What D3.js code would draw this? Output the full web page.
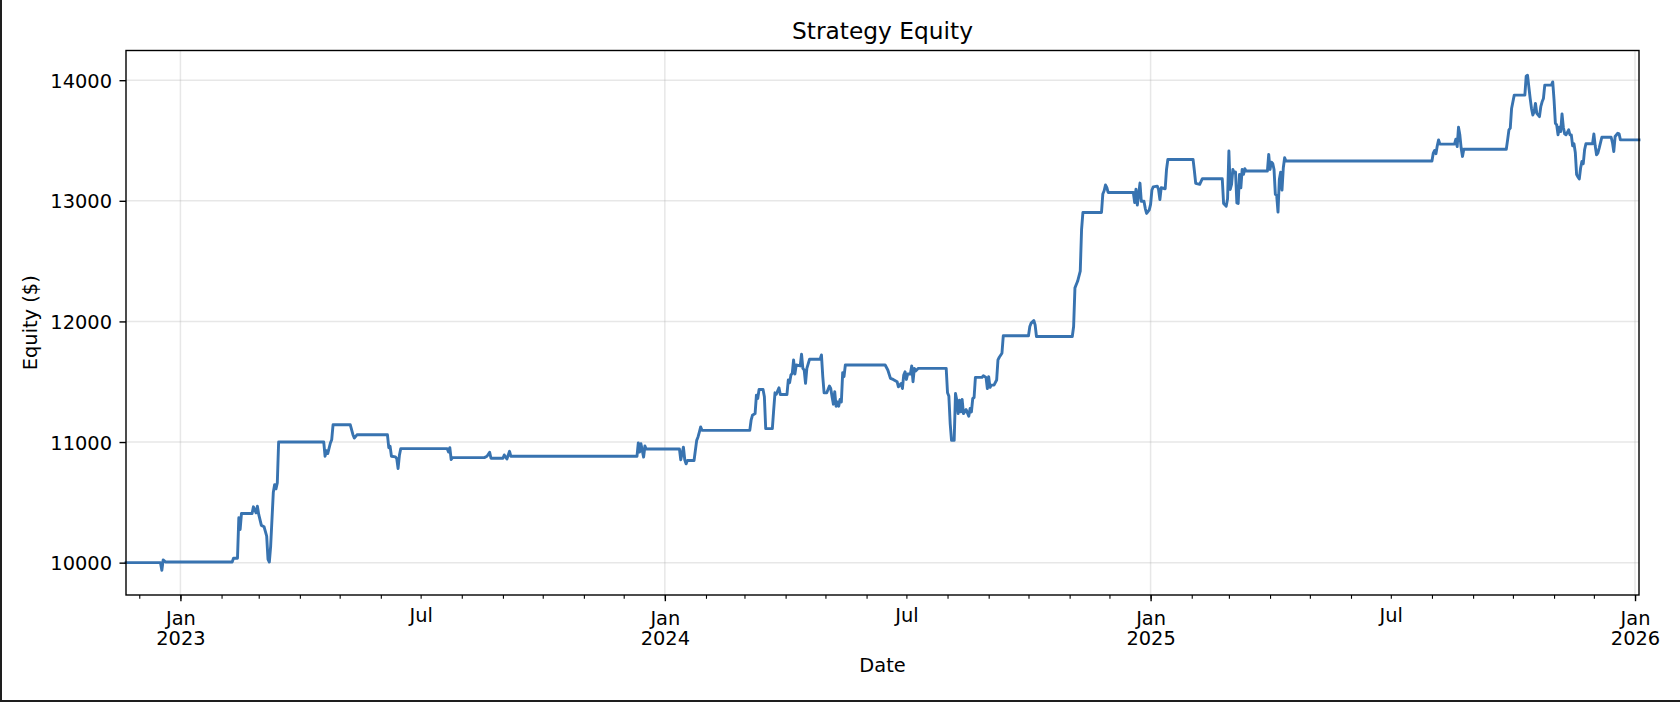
<!DOCTYPE html>
<html>
<head>
<meta charset="utf-8">
<script src="https://cdn.jsdelivr.net/npm/d3@7"></script>
<style>
html,body{margin:0;padding:0;background:#fff;overflow:hidden}
svg{display:block}
text{font-family:"DejaVu Sans",sans-serif;fill:#000}
</style>
</head>
<body>
<svg id="chart" width="1680" height="702"></svg>
<script>
// ---- Data (date, equity) ----
const equity2022 = [
  ["2022-11-21",10000],["2022-12-17",10000],["2022-12-18",9937],["2022-12-19",10022],["2022-12-21",10005]
];
const equity2023 = [
  ["2023-02-09",10005],["2023-02-10",10036],["2023-02-13",10036],["2023-02-14",10372],["2023-02-15",10275],
  ["2023-02-16",10408],["2023-02-24",10408],["2023-02-25",10463],["2023-02-27",10413],["2023-02-28",10468],
  ["2023-03-01",10400],["2023-03-03",10309],["2023-03-05",10298],["2023-03-07",10220],["2023-03-08",10028],
  ["2023-03-09",10005],["2023-03-10",10138],["2023-03-12",10584],["2023-03-13",10647],["2023-03-14",10612],
  ["2023-03-15",10661],["2023-03-16",11000],["2023-04-19",11000],["2023-04-20",10882],["2023-04-21",10928],
  ["2023-04-22",10904],["2023-04-24",10992],["2023-04-25",11019],["2023-04-26",11143],["2023-05-09",11143],
  ["2023-05-11",11061],["2023-05-12",11033],["2023-05-14",11060],["2023-06-06",11060],["2023-06-07",10953],
  ["2023-06-08",10964],["2023-06-09",10882],["2023-06-12",10877],["2023-06-13",10863],["2023-06-14",10781],
  ["2023-06-15",10890],["2023-06-16",10945],["2023-07-21",10945],["2023-07-22",10918],["2023-07-23",10953],
  ["2023-07-24",10855],["2023-07-25",10871],["2023-08-18",10871],["2023-08-20",10882],["2023-08-22",10915],
  ["2023-08-23",10866],["2023-09-01",10866],["2023-09-02",10893],["2023-09-04",10860],["2023-09-06",10923],
  ["2023-09-07",10882],["2023-12-11",10882],["2023-12-12",10992],["2023-12-13",10917],["2023-12-14",10986],
  ["2023-12-16",10875],["2023-12-17",10967],["2023-12-18",10942]
];
const equity2024 = [
  ["2024-01-12",10942],["2024-01-13",10853],["2024-01-15",10958],["2024-01-16",10853],["2024-01-17",10819],
  ["2024-01-18",10847],["2024-01-23",10847],["2024-01-25",11014],["2024-01-26",11042],["2024-01-27",11083],
  ["2024-01-28",11125],["2024-01-29",11097],["2024-03-05",11097],["2024-03-06",11181],["2024-03-07",11222],
  ["2024-03-09",11236],["2024-03-10",11389],["2024-03-11",11361],["2024-03-12",11436],["2024-03-15",11436],
  ["2024-03-16",11375],["2024-03-17",11111],["2024-03-22",11111],["2024-03-23",11264],["2024-03-24",11408],
  ["2024-03-25",11397],["2024-03-27",11450],["2024-03-28",11394],["2024-04-02",11394],["2024-04-03",11514],
  ["2024-04-04",11492],["2024-04-05",11556],["2024-04-06",11569],["2024-04-07",11681],["2024-04-08",11564],
  ["2024-04-09",11639],["2024-04-12",11631],["2024-04-13",11728],["2024-04-14",11611],["2024-04-15",11597],
  ["2024-04-16",11486],["2024-04-17",11611],["2024-04-19",11686],["2024-04-27",11686],["2024-04-28",11722],
  ["2024-04-29",11542],["2024-04-30",11408],["2024-05-02",11408],["2024-05-04",11464],["2024-05-05",11444],
  ["2024-05-06",11375],["2024-05-07",11314],["2024-05-08",11417],["2024-05-09",11297],["2024-05-10",11333],
  ["2024-05-11",11297],["2024-05-12",11353],["2024-05-13",11333],["2024-05-14",11575],["2024-05-15",11542],
  ["2024-05-16",11639],["2024-06-15",11639],["2024-06-17",11597],["2024-06-19",11528],["2024-06-21",11519],
  ["2024-06-24",11500],["2024-06-25",11458],["2024-06-27",11486],["2024-06-28",11444],["2024-06-29",11556],
  ["2024-06-30",11583],["2024-07-01",11519],["2024-07-02",11564],["2024-07-04",11564],["2024-07-05",11631],
  ["2024-07-06",11500],["2024-07-07",11611],["2024-07-08",11589],["2024-07-10",11611],["2024-07-31",11611],
  ["2024-08-01",11408],["2024-08-02",11381],["2024-08-03",11153],["2024-08-04",11014],["2024-08-06",11014],
  ["2024-08-07",11403],["2024-08-08",11347],["2024-08-09",11236],["2024-08-10",11347],["2024-08-11",11250],
  ["2024-08-12",11353],["2024-08-13",11236],["2024-08-15",11269],["2024-08-16",11242],["2024-08-17",11214],
  ["2024-08-18",11278],["2024-08-19",11250],["2024-08-20",11361],["2024-08-21",11369],["2024-08-22",11536],
  ["2024-08-27",11536],["2024-08-28",11550],["2024-08-30",11536],["2024-08-31",11444],["2024-09-01",11542],
  ["2024-09-02",11453],["2024-09-03",11472],["2024-09-05",11472],["2024-09-07",11514],["2024-09-08",11681],
  ["2024-09-09",11703],["2024-09-11",11736],["2024-09-12",11881],["2024-10-01",11881],["2024-10-02",11958],
  ["2024-10-03",11986],["2024-10-05",12008],["2024-10-06",11972],["2024-10-07",11875],["2024-11-03",11875],
  ["2024-11-04",11958],["2024-11-05",12278],["2024-11-06",12306],["2024-11-07",12333],["2024-11-09",12417],
  ["2024-11-10",12764],["2024-11-11",12903],["2024-11-25",12903],["2024-11-26",13056],["2024-11-27",13083],
  ["2024-11-28",13131],["2024-11-29",13111],["2024-11-30",13069],["2024-12-19",13069],["2024-12-20",12986],
  ["2024-12-21",13097],["2024-12-22",12964],["2024-12-23",13056],["2024-12-24",13147],["2024-12-25",12995],
  ["2024-12-27",12997],["2024-12-28",12936],["2024-12-29",12895],["2024-12-31",12925]
];
const equity2025 = [
  ["2025-01-01",12970],["2025-01-02",13090],["2025-01-03",13116],["2025-01-06",13122],["2025-01-07",13094],
  ["2025-01-08",13011],["2025-01-09",13108],["2025-01-12",13100],["2025-01-13",13260],["2025-01-14",13343],
  ["2025-02-02",13343],["2025-02-03",13247],["2025-02-04",13144],["2025-02-07",13136],["2025-02-09",13183],
  ["2025-02-24",13183],["2025-02-25",12978],["2025-02-27",12956],["2025-02-28",13017],["2025-03-01",13413],
  ["2025-03-02",13094],["2025-03-03",13136],["2025-03-04",13260],["2025-03-05",13233],["2025-03-06",13238],
  ["2025-03-07",12983],["2025-03-08",12978],["2025-03-09",13219],["2025-03-10",13108],["2025-03-11",13260],
  ["2025-03-12",13219],["2025-03-13",13266],["2025-03-14",13247],["2025-03-30",13247],["2025-03-31",13385],
  ["2025-04-01",13260],["2025-04-02",13321],["2025-04-03",13310],["2025-04-04",13260],["2025-04-05",13053],
  ["2025-04-06",13044],["2025-04-07",12906],["2025-04-08",13177],["2025-04-09",13238],["2025-04-10",13089],
  ["2025-04-11",13274],["2025-04-12",13357],["2025-04-13",13330],["2025-08-01",13330],["2025-08-02",13396],
  ["2025-08-03",13418],["2025-08-04",13390],["2025-08-05",13456],["2025-08-06",13505],["2025-08-07",13470],
  ["2025-08-18",13470],["2025-08-19",13511],["2025-08-20",13450],["2025-08-21",13610],["2025-08-22",13547],
  ["2025-08-23",13437],["2025-08-24",13368],["2025-08-25",13428],["2025-09-26",13428],["2025-09-27",13505],
  ["2025-09-28",13588],["2025-09-29",13602],["2025-09-30",13766],["2025-10-01",13821],["2025-10-02",13876],
  ["2025-10-10",13876],["2025-10-11",14033],["2025-10-12",14041],["2025-10-13",13945],["2025-10-14",13849],
  ["2025-10-15",13766],["2025-10-16",13711],["2025-10-17",13739],["2025-10-18",13808],["2025-10-19",13725],
  ["2025-10-21",13698],["2025-10-22",13780],["2025-10-23",13821],["2025-10-24",13849],["2025-10-25",13959],
  ["2025-10-30",13959],["2025-10-31",13986],["2025-11-01",13835],["2025-11-02",13643],["2025-11-03",13629],
  ["2025-11-04",13547],["2025-11-05",13610],["2025-11-06",13574],["2025-11-07",13720],["2025-11-08",13610],
  ["2025-11-09",13555],["2025-11-10",13547],["2025-11-12",13588],["2025-11-13",13547],["2025-11-14",13547],
  ["2025-11-15",13456],["2025-11-16",13473],["2025-11-17",13401],["2025-11-18",13217],["2025-11-19",13198],
  ["2025-11-20",13181],["2025-11-21",13272],["2025-11-22",13327],["2025-11-23",13308],["2025-11-24",13423],
  ["2025-11-25",13473],["2025-11-30",13473],["2025-12-01",13555],["2025-12-02",13456],["2025-12-03",13382],
  ["2025-12-04",13396],["2025-12-05",13437],["2025-12-07",13527],["2025-12-14",13527],["2025-12-15",13483],
  ["2025-12-16",13409],["2025-12-17",13533],["2025-12-19",13560],["2025-12-20",13555],["2025-12-21",13505]
];
const equity2026 = [
  ["2026-01-04",13505]
];

const yTicks = [10000, 11000, 12000, 13000, 14000];
const xLabelMonths = ["Jan", "Jul"];
const titleText = "Strategy Equity";
const xTitleText = "Date";
const yTitleText = "Equity ($)";

// ---- Layout ----
const W = 1680, H = 702;
const plot = {left: 126, right: 1639, top: 50.5, bottom: 595};
const lineColor = "#3873b0";

const parse = d3.utcParse("%Y-%m-%d");
const series = [].concat(equity2022, equity2023, equity2024, equity2025, equity2026)
  .map(([d, v]) => ({date: parse(d), value: v}));

const svg = d3.select("#chart");

// figure border (left and bottom edges of the screenshot)
svg.append("rect").attr("x", 0).attr("y", 0).attr("width", W).attr("height", H).attr("fill", "#fff");

const x = d3.scaleUtc()
  .domain(d3.extent(series, d => d.date))
  .range([plot.left, plot.right]);

const [vmin, vmax] = d3.extent(series, d => d.value);
const marg = (vmax - vmin) * 0.05;
const y = d3.scaleLinear()
  .domain([vmin - marg, vmax + marg])
  .range([plot.bottom, plot.top]);

const [d0, d1] = x.domain();
const monthTicks = d3.utcMonth.range(d3.utcMonth.ceil(d0), d3.utcDay.offset(d1, 1));
const yearTicks = d3.utcYear.range(d3.utcYear.ceil(d0), d3.utcDay.offset(d1, 1));
const fmtMon = d3.utcFormat("%b"), fmtYear = d3.utcFormat("%Y");

// ---- Grid ----
const grid = svg.append("g").attr("stroke", "#b0b0b0").attr("stroke-opacity", 0.3).attr("stroke-width", 1.5);
grid.selectAll("line.h").data(yTicks).join("line")
  .attr("x1", plot.left).attr("x2", plot.right)
  .attr("y1", d => y(d)).attr("y2", d => y(d));
grid.selectAll("line.v").data(yearTicks).join("line")
  .attr("y1", plot.top).attr("y2", plot.bottom)
  .attr("x1", d => x(d)).attr("x2", d => x(d));

// ---- Line ----
const line = d3.line().x(d => x(d.date)).y(d => y(d.value));
svg.append("path").datum(series)
  .attr("fill", "none")
  .attr("stroke", lineColor)
  .attr("stroke-width", 2.9)
  .attr("stroke-linejoin", "round")
  .attr("stroke-linecap", "square")
  .attr("d", line);

// ---- Spines ----
svg.append("rect")
  .attr("x", plot.left).attr("y", plot.top)
  .attr("width", plot.right - plot.left).attr("height", plot.bottom - plot.top)
  .attr("fill", "none").attr("stroke", "#000").attr("stroke-width", 1.4);

// ---- X minor axis (months) ----
const xMinor = svg.append("g").attr("transform", `translate(0,${plot.bottom})`)
  .call(d3.axisBottom(x).tickValues(monthTicks).tickSize(3.8)
    .tickFormat(d => (d.getUTCMonth() !== 0 && xLabelMonths.includes(fmtMon(d))) ? fmtMon(d) : ""));
xMinor.select(".domain").remove();
xMinor.selectAll(".tick line").attr("stroke", "#000").attr("stroke-width", 1.1);
xMinor.selectAll("text").attr("y", 27.1).attr("dy", null)
  .style("font-size", "19.4px").style("font-family", "'DejaVu Sans'");

// ---- X major axis (years) ----
const xMajor = svg.append("g").attr("transform", `translate(0,${plot.bottom})`)
  .call(d3.axisBottom(x).tickValues(yearTicks).tickSize(6.2).tickFormat(""));
xMajor.select(".domain").remove();
xMajor.selectAll(".tick line").attr("stroke", "#000").attr("stroke-width", 1.4);
xMajor.selectAll(".tick text").each(function(d) {
  const t = d3.select(this).attr("y", null).attr("dy", null)
    .style("font-size", "19.4px").style("font-family", "'DejaVu Sans'");
  t.text(null);
  t.append("tspan").attr("x", 0).attr("y", 29.7).text(fmtMon(d));
  t.append("tspan").attr("x", 0).attr("y", 50).text(fmtYear(d));
});

// ---- Y axis ----
const yAxis = svg.append("g").attr("transform", `translate(${plot.left},0)`)
  .call(d3.axisLeft(y).tickValues(yTicks).tickSize(6.5).tickFormat(d3.format("d")));
yAxis.select(".domain").remove();
yAxis.selectAll(".tick line").attr("stroke", "#000").attr("stroke-width", 1.4);
yAxis.selectAll("text").attr("x", -14).attr("dy", "0.365em")
  .style("font-size", "19.4px").style("font-family", "'DejaVu Sans'");

// ---- Titles ----
const cx = (plot.left + plot.right) / 2;
svg.append("text").attr("x", cx).attr("y", 39.3)
  .attr("text-anchor", "middle").style("font-size", "23.3px").text(titleText);
svg.append("text").attr("x", cx).attr("y", 671.7)
  .attr("text-anchor", "middle").style("font-size", "19.4px").text(xTitleText);
svg.append("text")
  .attr("transform", `translate(37,${(plot.top + plot.bottom) / 2}) rotate(-90)`)
  .attr("text-anchor", "middle").style("font-size", "19.4px").text(yTitleText);

// ---- Screenshot frame edges ----
svg.append("rect").attr("x", 0).attr("y", 0).attr("width", 2).attr("height", H).attr("fill", "#1e1e1e");
svg.append("rect").attr("x", 0).attr("y", H - 2).attr("width", W).attr("height", 2).attr("fill", "#1e1e1e");
</script>
</body>
</html>
